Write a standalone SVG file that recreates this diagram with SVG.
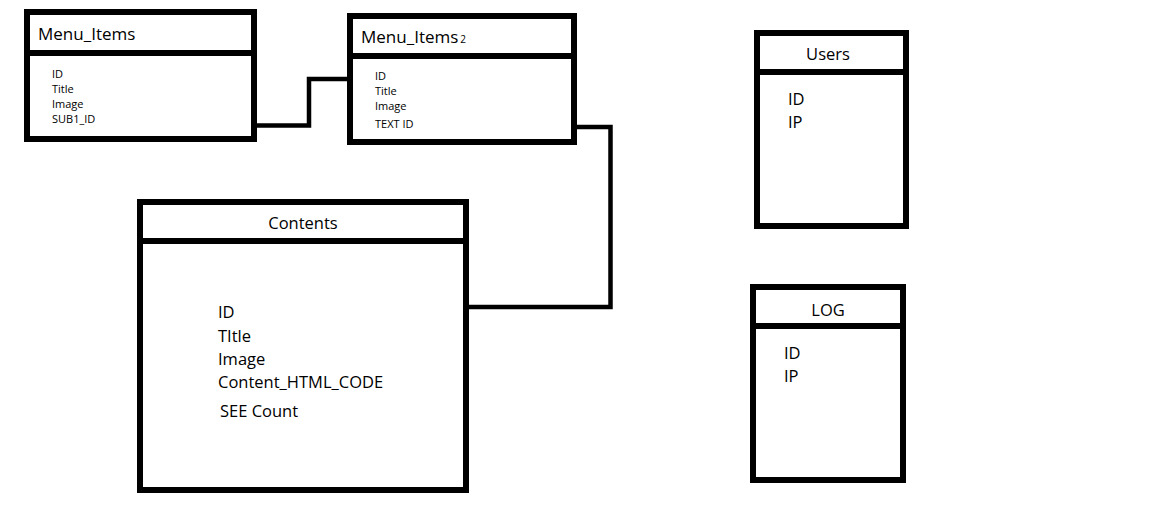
<svg xmlns="http://www.w3.org/2000/svg" width="1171" height="523" viewBox="0 0 1171 523">
<style>
.box{fill:#fff;stroke:#000;stroke-width:6}
.div{stroke:#000;stroke-width:6}
.conn{fill:none;stroke:#000;stroke-width:4.5;stroke-linejoin:miter}
text{font-family:"Open Sans","Noto Sans",sans-serif;fill:#000}
.t{font-size:17px}
.f{font-size:11px}
.c{font-size:16.5px}
.mid{text-anchor:middle}
</style>
<rect width="1171" height="523" fill="#fff"/>
<g id="connectors">
<polyline class="conn" points="257,125.5 309,125.5 309,79 353,79"/>
<polyline class="conn" points="577,127 610.5,127 610.5,307 466,307"/>
</g>
<g id="menu_items">
<rect class="box" x="27" y="12" width="227" height="127"/>
<line class="div" x1="27" y1="53" x2="254" y2="53"/>
<text class="t" x="38" y="40">Menu_Items</text>
<text class="f" x="52" y="78">ID</text>
<text class="f" x="52" y="93">Title</text>
<text class="f" x="52" y="108">Image</text>
<text class="f" x="52" y="123">SUB1_ID</text>
</g>
<g id="menu_items2">
<rect class="box" x="350" y="16" width="224" height="126"/>
<line class="div" x1="350" y1="56" x2="574" y2="56"/>
<text class="t" x="361" y="43">Menu_Items<tspan font-size="10px" dx="2">2</tspan></text>
<text class="f" x="375" y="80">ID</text>
<text class="f" x="375" y="95">Title</text>
<text class="f" x="375" y="110">Image</text>
<text class="f" x="375" y="128">TEXT ID</text>
</g>
<g id="contents">
<rect class="box" x="140" y="202" width="326" height="288"/>
<line class="div" x1="140" y1="241" x2="466" y2="241"/>
<text class="c mid" x="303" y="229">Contents</text>
<text class="c" x="218" y="318">ID</text>
<text class="c" x="218" y="342">TItle</text>
<text class="c" x="218" y="365">Image</text>
<text class="c" x="218" y="388">Content_HTML_CODE</text>
<text class="c" x="220" y="417">SEE Count</text>
</g>
<g id="users">
<rect class="box" x="757" y="33" width="149" height="193"/>
<line class="div" x1="757" y1="72" x2="906" y2="72"/>
<text class="c mid" x="828" y="60">Users</text>
<text class="c" x="788" y="105">ID</text>
<text class="c" x="788" y="128">IP</text>
</g>
<g id="log">
<rect class="box" x="753" y="287" width="150" height="193"/>
<line class="div" x1="753" y1="326" x2="903" y2="326"/>
<text class="c mid" x="828" y="316">LOG</text>
<text class="c" x="784" y="359">ID</text>
<text class="c" x="784" y="382">IP</text>
</g>
</svg>
